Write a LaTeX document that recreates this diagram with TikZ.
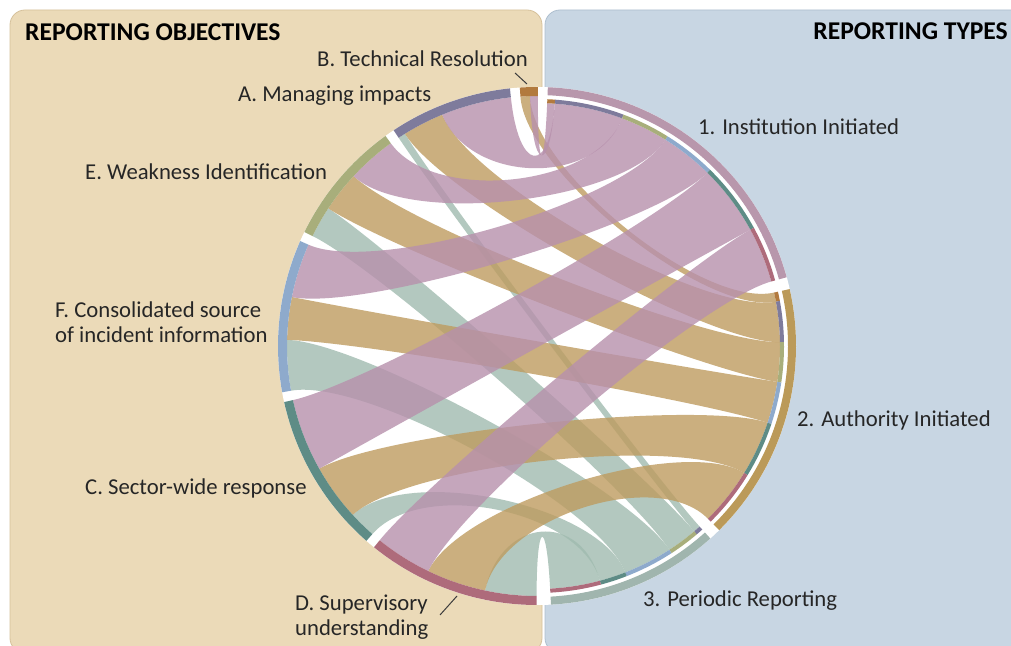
\documentclass[tikz,border=0pt]{standalone}
\usepackage{fontspec}
\setmainfont{Carlito}
\definecolor{panelL}{HTML}{EBDAB8}
\definecolor{panelLb}{HTML}{D6C19B}
\definecolor{panelR}{HTML}{C8D6E3}
\definecolor{panelRb}{HTML}{AEBFCF}
\definecolor{cB}{HTML}{B27A3E}
\definecolor{cA}{HTML}{7E7B9C}
\definecolor{cE}{HTML}{A8AE7B}
\definecolor{cF}{HTML}{8EAACC}
\definecolor{cC}{HTML}{5E8C86}
\definecolor{cD}{HTML}{AE6B7B}
\definecolor{cI}{HTML}{B897AC}
\definecolor{cAu}{HTML}{BB9A59}
\definecolor{cP}{HTML}{A0B5AE}
\definecolor{rI}{HTML}{B790AC}
\definecolor{rAu}{HTML}{BE9B5F}
\definecolor{rP}{HTML}{A0BBAF}
\definecolor{txt}{HTML}{262626}
\newcommand\chordrib[5]{\fill[#1,fill opacity=0.8] (#2:250pt) arc[start angle=#2,end angle=#3,radius=250pt] .. controls (#3:175pt) and (#4:170pt) .. (#4:243pt) arc[start angle=#4,end angle=#5,radius=243pt] .. controls (#5:170pt) and (#2:175pt) .. (#2:250pt) -- cycle;}
\newcommand\ringseg[5]{\fill[#1] (#2:#5) arc[start angle=#2,end angle=#3,radius=#5] -- (#3:#4) arc[start angle=#3,end angle=#2,radius=#4] -- cycle;}
\tikzset{
  lab/.style={inner sep=0pt, text=txt, font=\fontsize{22.7}{27}\selectfont},
  ttl/.style={inner sep=0pt, text=black, font=\fontsize{25.6}{29}\selectfont\bfseries},
  leader/.style={draw=txt!90, line width=1pt}
}
\begin{document}
\begin{tikzpicture}[x=1pt,y=1pt]
\useasboundingbox (0,0) rectangle (1011,645);
\fill[white] (0,0) rectangle (1011,645);
\draw[panelLb, fill=panelL, rounded corners=15pt, line width=0.8pt] (10,-8) rectangle (542,635);
\draw[panelRb, fill=panelR, rounded corners=15pt, line width=0.8pt] (545,-8) rectangle (1035,635);
\begin{scope}[shift={(537,299)}]
\fill[white] (0,0) circle[radius=259pt];
% Periodic ribbons
\chordrib{rP}{121.9}{123.6}{-49.7}{-48.0}
\chordrib{rP}{146.6}{153.9}{-57.0}{-49.7}
\chordrib{rP}{178.6}{190.3}{-68.7}{-57.0}
\chordrib{rP}{222.5}{228.8}{-75.0}{-68.7}
\chordrib{rP}{258.0}{269.9}{-86.9}{-75.0}
% Authority ribbons
\chordrib{rAu}{91.6}{93.8}{10.5}{12.7}
\chordrib{rAu}{112.3}{121.9}{0.9}{10.5}
\chordrib{rAu}{137.2}{146.6}{-8.5}{0.9}
\chordrib{rAu}{168.7}{178.6}{-18.4}{-8.5}
\chordrib{rAu}{209.4}{222.5}{-31.5}{-18.4}
\chordrib{rAu}{244.2}{258.0}{-45.3}{-31.5}
% Institution ribbons
\chordrib{rI}{89.8}{91.6}{85.8}{87.6}
\chordrib{rI}{96.0}{112.3}{69.5}{85.8}
\chordrib{rI}{125.8}{137.2}{58.1}{69.5}
\chordrib{rI}{156.1}{168.7}{45.5}{58.1}
\chordrib{rI}{192.5}{209.4}{28.6}{45.5}
\chordrib{rI}{231.0}{244.2}{15.4}{28.6}
% objective rings
\ringseg{cB}{89.8}{93.8}{250pt}{259pt}
\ringseg{cA}{96.0}{123.6}{250pt}{259pt}
\ringseg{cE}{125.8}{153.9}{250pt}{259pt}
\ringseg{cF}{156.1}{190.3}{250pt}{259pt}
\ringseg{cC}{192.5}{228.8}{250pt}{259pt}
\ringseg{cD}{231.0}{269.9}{250pt}{259pt}
% type rings
\ringseg{cI}{15.4}{87.6}{251pt}{259pt}
\ringseg{cAu}{-45.3}{12.7}{251pt}{259pt}
\ringseg{cP}{-86.9}{-48.0}{251pt}{259pt}
% inner bands
\ringseg{cB}{85.8}{87.6}{243pt}{247pt}
\ringseg{cA}{69.5}{85.8}{243pt}{247pt}
\ringseg{cE}{58.1}{69.5}{243pt}{247pt}
\ringseg{cF}{45.5}{58.1}{243pt}{247pt}
\ringseg{cC}{28.6}{45.5}{243pt}{247pt}
\ringseg{cD}{15.4}{28.6}{243pt}{247pt}
\ringseg{cB}{10.5}{12.7}{243pt}{247pt}
\ringseg{cA}{0.9}{10.5}{243pt}{247pt}
\ringseg{cE}{-8.5}{0.9}{243pt}{247pt}
\ringseg{cF}{-18.4}{-8.5}{243pt}{247pt}
\ringseg{cC}{-31.5}{-18.4}{243pt}{247pt}
\ringseg{cD}{-45.3}{-31.5}{243pt}{247pt}
\ringseg{cA}{-49.7}{-48.0}{243pt}{247pt}
\ringseg{cE}{-57.0}{-49.7}{243pt}{247pt}
\ringseg{cF}{-68.7}{-57.0}{243pt}{247pt}
\ringseg{cC}{-75.0}{-68.7}{243pt}{247pt}
\ringseg{cD}{-86.9}{-75.0}{243pt}{247pt}
\end{scope}
% titles
\node[ttl, anchor=base west] (tobj) at (25,604) {REPORTING OBJECTIVES};
\node[ttl, anchor=base east] (ttyp) at (1008,605) {REPORTING TYPES};
% labels
\node[lab, anchor=base west] (labB) at (317,578) {B. Technical Resolution};
\node[lab, anchor=base west] (labA) at (238,543) {A. Managing impacts};
\node[lab, anchor=base west] (labE) at (85,465) {E. Weakness Identification};
\node[lab, anchor=base west] (labF1) at (55,327) {F. Consolidated source};
\node[lab, anchor=base west] (labF2) at (55,302) {of incident information};
\node[lab, anchor=base west] (labC) at (85,150) {C. Sector-wide response};
\node[lab, anchor=base west] (labD1) at (295,35) {D. Supervisory};
\node[lab, anchor=base west] (labD2) at (295,10) {understanding};
\node[lab, anchor=base west] (lab1) at (698,510) {1. Institution Initiated};
\node[lab, anchor=base west] (lab2) at (797,218) {2. Authority Initiated};
\node[lab, anchor=base west] (lab3) at (643,39) {3. Periodic Reporting};
% leaders
\coordinate (bL1) at (515,572);
\coordinate (bL2) at (527,561);
\coordinate (dL1) at (440,30);
\coordinate (dL2) at (457,49);
\draw[leader] (bL1) -- (bL2);
\draw[leader] (dL1) -- (dL2);
\end{tikzpicture}
\end{document}
